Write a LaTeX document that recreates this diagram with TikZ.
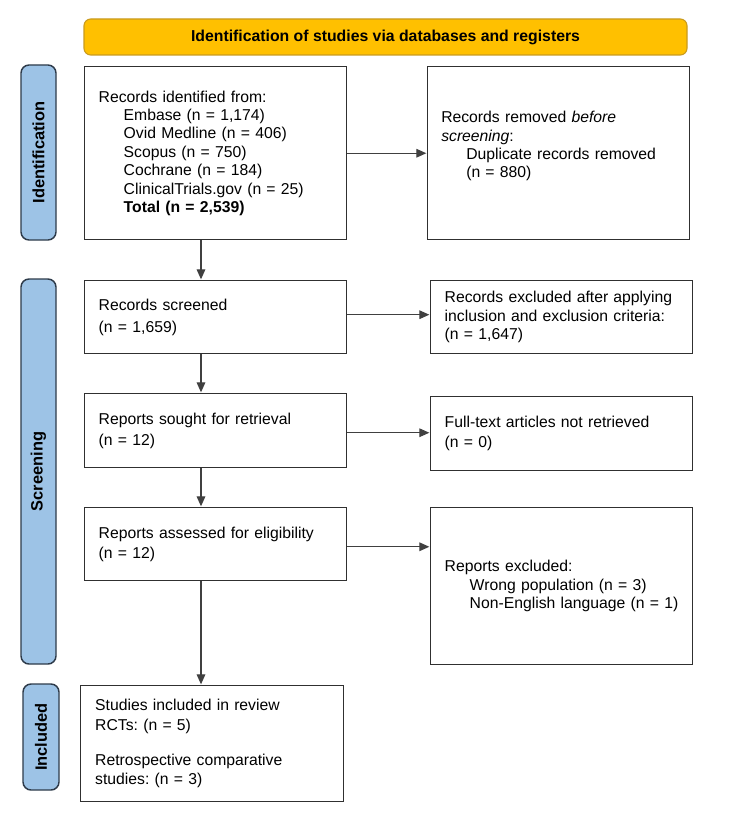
\documentclass[tikz,border=0pt]{standalone}
\usepackage{fontspec}
\setmainfont{Liberation Sans}
\usetikzlibrary{arrows.meta,calc}
\definecolor{bannerfill}{HTML}{FFC000}
\definecolor{bannerdraw}{HTML}{C99A1E}
\definecolor{sidefill}{HTML}{9DC3E6}
\definecolor{sidedraw}{HTML}{2E3B4A}
\definecolor{boxdraw}{HTML}{303030}
\definecolor{arrowcol}{HTML}{404040}
\frenchspacing
\begin{document}
\begin{tikzpicture}[x=0.75pt,y=-0.75pt,
  box/.style={draw=boxdraw, line width=1.1pt, rectangle, inner xsep=10.5pt, inner ysep=0pt,
    align=left, anchor=north west, text width=175.5pt, minimum width=196.5pt,
    font=\fontsize{11.8}{13.8}\selectfont},
  txt/.style={inner sep=0pt, align=left, anchor=west, text width=175.5pt,
    font=\fontsize{11.8}{13.8}\selectfont},
  side/.style={draw=sidedraw, fill=sidefill, line width=1.1pt, rounded corners=6pt,
    rotate=90, inner sep=0pt, font=\fontsize{12.3}{14}\selectfont\bfseries},
  banner/.style={draw=bannerdraw, fill=bannerfill, line width=0.8pt, rounded corners=5pt,
    inner sep=0pt, minimum width=452.25pt, minimum height=27pt,
    font=\fontsize{11.85}{14}\selectfont\bfseries},
  arr/.style={draw=arrowcol, line width=0.8pt, -{Triangle[length=7.5pt,width=6.5pt]}, shorten >=0.5pt},
]
\fill[white] (0,0) rectangle (750,824);
\useasboundingbox (0,0) rectangle (750,824);

% banner
\node[banner] (ban) at (385.5,37) {Identification of studies via databases and registers};

% side labels
\node[side, minimum width=131.25pt, minimum height=26.25pt] (sid1) at (38.5,152.5) {Identification};
\node[side, minimum width=288.75pt, minimum height=26.25pt] (sid2) at (38.5,471.5) {Screening};
\node[side, minimum width=79.5pt, minimum height=27pt] (sid3) at (41,737) {Included};

% boxes
\node[box, minimum height=129.75pt] (b1) at (84,66) {Records identified from:\\
\hspace*{18.75pt}Embase (n = 1,174)\\
\hspace*{18.75pt}Ovid Medline (n = 406)\\
\hspace*{18.75pt}Scopus (n = 750)\\
\hspace*{18.75pt}Cochrane (n = 184)\\
\hspace*{18.75pt}ClinicalTrials.gov (n = 25)\\
\hspace*{18.75pt}\textbf{Total (n = 2,539)}};

\node[box, minimum height=129.75pt] (b2) at (427,66) {};
\node[txt] (b2t) at ($(b2.west)+(14,-7)$) {Records removed \textit{before}\\
\textit{screening}:\\
\hspace*{18.75pt}Duplicate records removed\\
\hspace*{18.75pt}(n = 880)};

\node[box, minimum height=54.75pt, font=\fontsize{11.8}{16.5}\selectfont] (b3) at (84,280) {Records screened\\(n = 1,659)};
\node[box, minimum height=54.75pt] (b4) at (430,280) {Records excluded after applying\\inclusion and exclusion criteria:\\(n = 1,647)};

\node[box, minimum height=55.5pt, font=\fontsize{11.8}{15.8}\selectfont] (b5) at (84,393) {Reports sought for retrieval\\(n = 12)};
\node[box, minimum height=55.5pt, font=\fontsize{11.8}{15}\selectfont] (b6) at (430,396) {Full-text articles not retrieved\\(n = 0)};

\node[box, minimum height=54.75pt, font=\fontsize{11.8}{14.8}\selectfont] (b7) at (84,507) {Reports assessed for eligibility\\(n = 12)};
\node[box, minimum height=117.75pt] (b8) at (430,507) {Reports excluded:\\
\hspace*{18.75pt}Wrong population (n = 3)\\
\hspace*{18.75pt}Non-English language (n = 1)};

\node[box, minimum height=87pt, minimum width=197.25pt, font=\fontsize{11.8}{14.5}\selectfont] (b9) at (80,685) {Studies included in review\\
RCTs: (n = 5)\\[11.8pt]
Retrospective comparative\\
studies: (n = 3)};

% horizontal arrows
\draw[arr] (b1.east) -- (b2.west);
\draw[arr] ([yshift=1.9pt]b3.east) -- ([yshift=1.9pt]b3.east -| b4.west);
\draw[arr] ([yshift=-1.5pt]b5.east) -- ([yshift=-1.5pt]b5.east -| b6.west);
\draw[arr] ([yshift=-1.9pt]b7.east) -- ([yshift=-1.9pt]b7.east -| b8.west);

% vertical arrows
\draw[arr] ([xshift=87.75pt]b1.south west) -- ([xshift=87.75pt]b3.north west);
\draw[arr] ([xshift=87.75pt]b3.south west) -- ([xshift=87.75pt]b5.north west);
\draw[arr] ([xshift=87.75pt]b5.south west) -- ([xshift=87.75pt]b7.north west);
\draw[arr] ([xshift=87.75pt]b7.south west) -- ([xshift=90.75pt]b9.north west);
\end{tikzpicture}
\end{document}
